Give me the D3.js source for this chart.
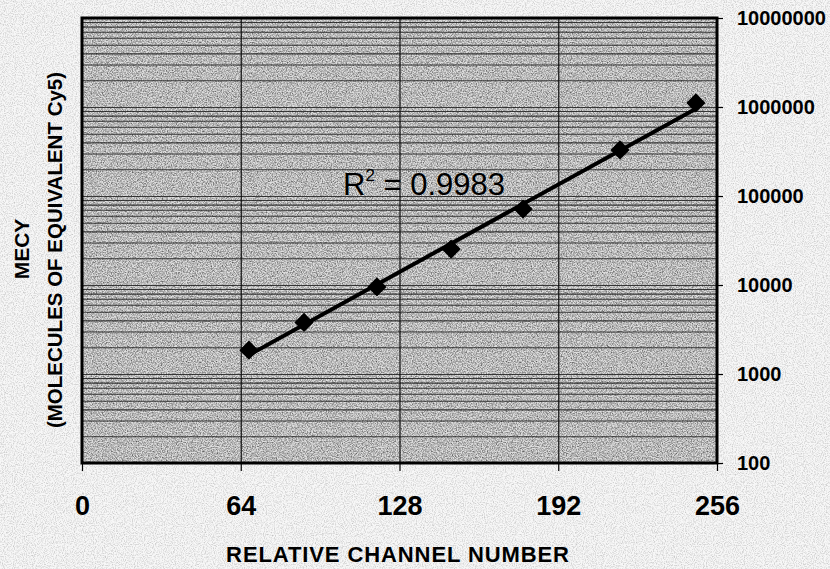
<!DOCTYPE html>
<html>
<head>
<meta charset="utf-8">
<script src="https://cdn.jsdelivr.net/npm/d3@7"></script>
<style>
  html, body { margin: 0; padding: 0; background: #f3f3f3; }
  svg { display: block; }
  text { font-family: "Liberation Sans", Arial, Helvetica, sans-serif; fill: #000; }
</style>
</head>
<body>
<svg id="chart" width="830" height="569"></svg>
<script>
// ---- data ----
const channels = [67.3, 89.5, 118.9, 148.8, 177.8, 216.9, 247.5];
const mecy     = [1850, 3800, 9500, 25300, 71400, 329000, 1110000];
const xTicks   = [0, 64, 128, 192, 256];
const yTicks   = [100, 1000, 10000, 100000, 1000000, 10000000];
const r2Label  = "0.9983";
const xTitle   = "RELATIVE CHANNEL NUMBER";
const yTitle1  = "MECY";
const yTitle2  = "(MOLECULES OF EQUIVALENT Cy5)";

// ---- layout ----
const W = 830, H = 569;
const m = { left: 82, top: 18, right: 717, bottom: 463 };

const svg = d3.select("#chart");
const defs = svg.append("defs");

const f = defs.append("filter").attr("id", "grain")
  .attr("x", 0).attr("y", 0).attr("width", "100%").attr("height", "100%");
f.append("feTurbulence").attr("type", "fractalNoise").attr("baseFrequency", 0.8)
  .attr("numOctaves", 3).attr("seed", 7);
f.append("feColorMatrix").attr("type", "matrix")
  .attr("values", "0 0 0 0 0  0 0 0 0 0  0 0 0 0 0  1.8 0 0 0 -0.62");

const f2 = defs.append("filter").attr("id", "grainLight")
  .attr("x", 0).attr("y", 0).attr("width", "100%").attr("height", "100%");
f2.append("feTurbulence").attr("type", "fractalNoise").attr("baseFrequency", 0.9)
  .attr("numOctaves", 2).attr("seed", 3);
f2.append("feColorMatrix").attr("type", "matrix")
  .attr("values", "0 0 0 0 0  0 0 0 0 0  0 0 0 0 0  1.2 0 0 0 -0.5");

// page background
svg.append("rect").attr("width", W).attr("height", H).attr("fill", "#f7f7f7");
svg.append("rect").attr("width", W).attr("height", H).attr("filter", "url(#grainLight)").attr("opacity", 0.35);

const x = d3.scaleLinear().domain([0, 256]).range([m.left, m.right]);
const y = d3.scaleLog().domain([100, 10000000]).range([m.bottom, m.top]);

// plot area fill + texture
svg.append("rect").attr("x", m.left).attr("y", m.top)
  .attr("width", m.right - m.left).attr("height", m.bottom - m.top)
  .attr("fill", "#dedede");
svg.append("rect").attr("x", m.left).attr("y", m.top)
  .attr("width", m.right - m.left).attr("height", m.bottom - m.top)
  .attr("filter", "url(#grain)").attr("opacity", 0.6);

// horizontal gridlines (log major + minor)
const hGrid = [];
for (let k = 2; k < 7; k++) for (let d = 1; d <= 9; d++) hGrid.push(d * Math.pow(10, k));
svg.append("g").attr("class", "hgrid")
  .attr("transform", `translate(${m.left},0)`)
  .call(d3.axisLeft(y).tickValues(hGrid).tickSize(-(m.right - m.left)).tickFormat(""))
  .call(g => g.select(".domain").remove())
  .call(g => g.selectAll("line").attr("stroke", "#151515").attr("stroke-width", 1.1).attr("opacity", 0.8));

// vertical gridlines
svg.append("g").attr("class", "vgrid")
  .attr("transform", `translate(0,${m.top})`)
  .call(d3.axisTop(x).tickValues([64, 128, 192]).tickSize(-(m.bottom - m.top)).tickFormat(""))
  .call(g => g.select(".domain").remove())
  .call(g => g.selectAll("line").attr("stroke", "#111").attr("stroke-width", 1.2));

// x axis
const xAxis = svg.append("g")
  .attr("transform", `translate(0,${m.bottom})`)
  .call(d3.axisBottom(x).tickValues(xTicks).tickSize(8).tickPadding(25).tickFormat(d3.format("d")));
xAxis.select(".domain").remove();
xAxis.selectAll("line").attr("stroke", "#000").attr("stroke-width", 1.2);
xAxis.selectAll("text").style("font-size", "27px").style("font-weight", "bold");

// y axis (right)
const yAxis = svg.append("g")
  .attr("transform", `translate(${m.right},0)`)
  .call(d3.axisRight(y).tickValues(yTicks).tickSize(6).tickPadding(14).tickFormat(d3.format("d")));
yAxis.select(".domain").remove();
yAxis.selectAll("line").attr("stroke", "#000").attr("stroke-width", 1.2);
yAxis.selectAll("text").style("font-size", "20px").style("font-weight", "bold");

// plot border
svg.append("rect").attr("x", m.left).attr("y", m.top)
  .attr("width", m.right - m.left).attr("height", m.bottom - m.top)
  .attr("fill", "none").attr("stroke", "#000").attr("stroke-width", 3);

// regression line (log10 y vs channel)
const lx = channels, ly = mecy.map(v => Math.log10(v));
const mx = d3.mean(lx), my = d3.mean(ly);
const b = d3.sum(lx.map((v, i) => (v - mx) * (ly[i] - my))) / d3.sum(lx.map(v => (v - mx) ** 2));
const a = my - b * mx;
const x0 = d3.min(lx), x1 = d3.max(lx);
svg.append("line")
  .attr("x1", x(x0)).attr("y1", y(Math.pow(10, a + b * x0)))
  .attr("x2", x(x1)).attr("y2", y(Math.pow(10, a + b * x1)))
  .attr("stroke", "#000").attr("stroke-width", 4).attr("stroke-linecap", "round");

// markers
svg.append("g").selectAll("path").data(channels).join("path")
  .attr("d", d3.symbol(d3.symbolSquare, 185)())
  .attr("transform", (d, i) => `translate(${x(d)},${y(mecy[i])}) rotate(45)`)
  .attr("fill", "#000");

// R^2 label
const r2 = svg.append("text").attr("x", 343).attr("y", 195).style("font-size", "31px");
r2.append("tspan").text("R");
r2.append("tspan").attr("dy", -14).style("font-size", "17px").text("2");
r2.append("tspan").attr("dy", 14).text(" = " + r2Label);

// axis titles
svg.append("text").attr("x", 398).attr("y", 562).attr("text-anchor", "middle")
  .style("font-size", "22px").style("font-weight", "bold").style("letter-spacing", "0.9px")
  .text(xTitle);
svg.append("text").attr("transform", "translate(29,249) rotate(-90)").attr("text-anchor", "middle")
  .style("font-size", "21px").style("font-weight", "bold").text(yTitle1);
svg.append("text").attr("transform", "translate(62,250) rotate(-90)").attr("text-anchor", "middle")
  .style("font-size", "20.5px").style("font-weight", "bold").text(yTitle2);
</script>
</body>
</html>
